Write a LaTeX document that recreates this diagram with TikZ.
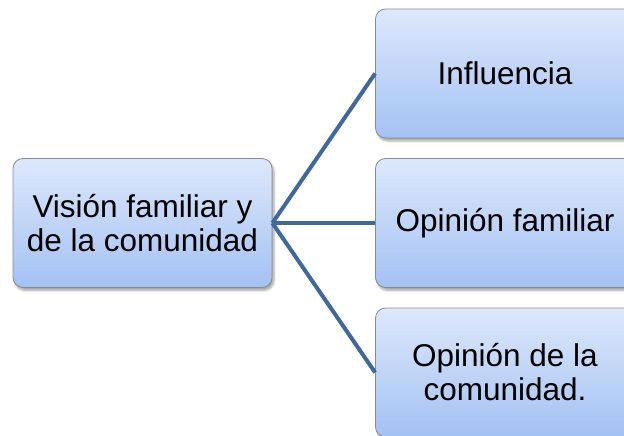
\documentclass[tikz,border=0pt]{standalone}
\usepackage{fontspec}
\setmainfont{Liberation Sans}
\usepackage{tikz}
\usetikzlibrary{shadows.blur}
\definecolor{boxtop}{HTML}{DDE8FB}
\definecolor{boxbottom}{HTML}{A4C1F4}
\definecolor{boxline}{HTML}{858C96}
\definecolor{linkblue}{HTML}{40689A}

\begin{document}
\begin{tikzpicture}[x=1pt,y=-1pt]
  \tikzset{ideabox/.style={draw=boxline, line width=0.8pt, rounded corners=10pt,
      top color=boxtop, bottom color=boxbottom, minimum width=259pt, minimum height=129pt,
      align=center, font=\fontsize{31.5}{34}\selectfont,
      blur shadow={shadow xshift=2pt, shadow yshift=-3pt, shadow blur steps=6, shadow opacity=35}},
    link/.style={draw=linkblue, line width=4pt}}
  \useasboundingbox (0,0) rectangle (624,436);
  \clip (0,0) rectangle (624,436);
  \node[ideabox] (vision) at (142.5,223) {Visión familiar y\\de la comunidad};
  \node[ideabox] (influencia) at (505,73.5) {Influencia};
  \node[ideabox] (familiar) at (505,223) {Opinión familiar};
  \node[ideabox] (comunidad) at (505,372.5) {Opinión de la\\comunidad.};
  \draw[link] (vision.east) -- (influencia.west);
  \draw[link] (vision.east) -- (familiar.west);
  \draw[link] (vision.east) -- (comunidad.west);
\end{tikzpicture}
\end{document}
